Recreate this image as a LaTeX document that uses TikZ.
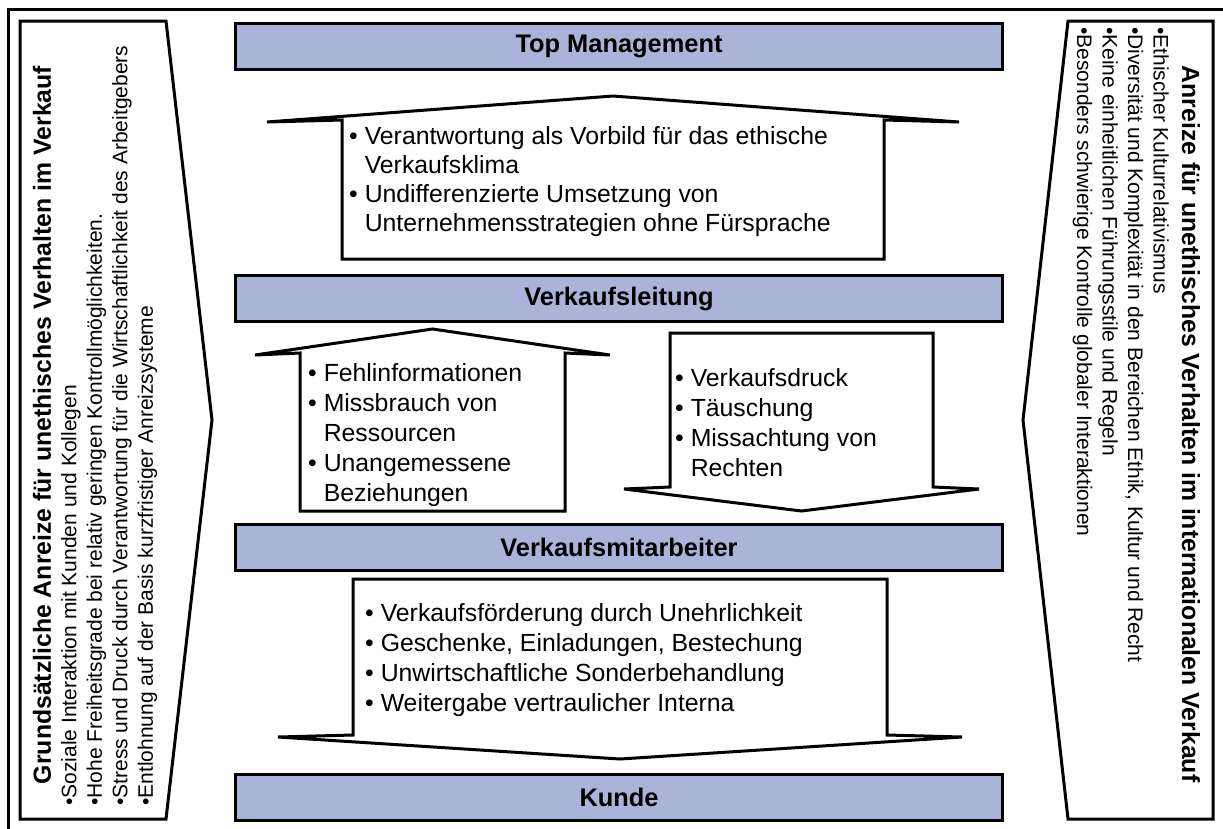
\documentclass[tikz,border=0pt]{standalone}
\usepackage{fontspec}
\setmainfont{Liberation Sans}
\usetikzlibrary{positioning}
\definecolor{barblue}{RGB}{170,180,217}

\begin{document}
\begin{tikzpicture}[x=1pt,y=-1pt,
    panel/.style={draw,line width=3pt,line join=miter},
    blockline/.style={draw,line width=3pt,fill=white},
    bar/.style={draw,line width=3pt,fill=barblue,minimum width=767pt,minimum height=46pt,inner sep=0pt,font=\fontsize{25.4}{30}\selectfont\bfseries},
    body/.style={align=left,inner sep=0pt,anchor=north west,font=\fontsize{24.8}{30}\selectfont},
    sidetitle/.style={inner sep=0pt,font=\fontsize{24.8}{30}\selectfont\bfseries},
    sidetext/.style={align=left,inner sep=0pt,anchor=north west,font=\fontsize{21}{25.5}\selectfont}]
        \useasboundingbox (0,0) rectangle (1223,828);
        \newcommand{\bul}{\textbullet\ }
        \newcommand{\ind}{\hphantom{\textbullet\ }}
        % Up arrow: left, right, top, bottom, wing
        \newcommand{\uparrowbox}[5]{%
            \draw[blockline] (#1,#4) -- (#1,#3) -- ++(-#5,2) -- ({(#1+#2)/2},#3-24) -- ({#2+#5},#3+2) -- (#2,#3) -- (#2,#4) -- cycle;
        }
        % Down arrow: left, right, top, bottom, wing
        \newcommand{\downarrowbox}[5]{%
            \draw[blockline] (#1,#3) -- (#1,#4) -- ++(-#5,2) -- ({(#1+#2)/2},#4+24) -- ({#2+#5},#4+2) -- (#2,#4) -- (#2,#3) -- cycle;
        }
        % Outer frame
        \draw[line width=3pt] (8,832) -- (8,9) -- (1227,9);
        % Side panels
        \draw[panel] (20,21) -- (166,21) -- (212,420) -- (166,819) -- (20,819) -- cycle;
        \draw[panel] (1068,21) -- (1213,21) -- (1213,819) -- (1068,819) -- (1023,420) -- cycle;
        \node[sidetitle,rotate=90] (lefttitle) at (42,425) {Grundsätzliche Anreize für unethisches Verhalten im Verkauf};
        \node[sidetext,rotate=90] (lefttext) at (61,806) {%
            •Soziale Interaktion mit Kunden und Kollegen\\
            •Hohe Freiheitsgrade bei relativ geringen Kontrollmöglichkeiten.\\
            •Stress und Druck durch Verantwortung für die Wirtschaftlichkeit des Arbeitgebers\\
            •Entlohnung auf der Basis kurzfristiger Anreizsysteme};
        \node[sidetitle,rotate=-90] (righttitle) at (1191,424) {Anreize für unethisches Verhalten im internationalen Verkauf};
        \node[sidetext,rotate=-90] (righttext) at (1169,27) {%
            •Ethischer Kulturrelativismus\\
            •Diversität und Komplexität in den Bereichen Ethik, Kultur und Recht\\
            •Keine einheitlichen Führungsstile und Regeln\\
            •Besonders schwierige Kontrolle globaler Interaktionen};
        % Levels
        \node[bar] (tm) at (619,46) {Top Management};
        \node[bar] (vl) at (619,298.5) {Verkaufsleitung};
        \node[bar] (vm) at (619,547) {Verkaufsmitarbeiter};
        \node[bar] (kunde) at (619,797.5) {Kunde};
        % Block arrows
        \uparrowbox{342}{884}{120}{259}{75}
        \uparrowbox{300}{565}{353}{511}{45}
        \downarrowbox{670}{933}{333}{487}{46}
        \downarrowbox{353}{887}{579}{735}{75}
        % Texts in the arrows
        \node[body,font=\fontsize{24.8}{29}\selectfont] (tmtext) at (349,126) {%
            \bul Verantwortung als Vorbild für das ethische\\
            \ind Verkaufsklima\\
            \bul Undifferenzierte Umsetzung von\\
            \ind Unternehmensstrategien ohne Fürsprache};
        \node[body] (uptext) at (308,363) {%
            \bul Fehlinformationen\\
            \bul Missbrauch von\\
            \ind Ressourcen\\
            \bul Unangemessene\\
            \ind Beziehungen};
        \node[body] (downtext) at (675,368) {%
            \bul Verkaufsdruck\\
            \bul Täuschung\\
            \bul Missachtung von\\
            \ind Rechten};
        \node[body] (vmtext) at (365,603) {%
            \bul Verkaufsförderung durch Unehrlichkeit\\
            \bul Geschenke, Einladungen, Bestechung\\
            \bul Unwirtschaftliche Sonderbehandlung\\
            \bul Weitergabe vertraulicher Interna};
\end{tikzpicture}
\end{document}
